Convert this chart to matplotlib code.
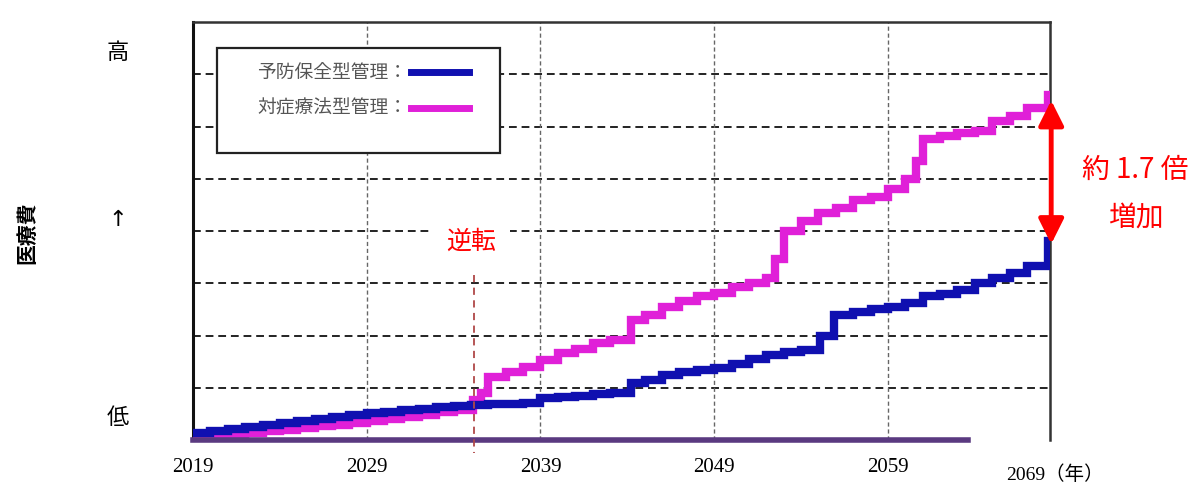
import matplotlib.pyplot as plt
from matplotlib.lines import Line2D
from matplotlib.patches import Rectangle

plt.rcParams['font.family'] = ['Noto Sans CJK JP', 'DejaVu Sans']

# cost path under preventive maintenance (step per year)
years_prev = [2019, 2020, 2021, 2022, 2023, 2024, 2025, 2026, 2027, 2028,
              2029, 2030, 2031, 2032, 2033, 2034, 2035, 2036, 2037, 2038,
              2039, 2040, 2041, 2042, 2043, 2044.2, 2045, 2046, 2047, 2048,
              2049, 2050, 2051, 2052, 2053, 2054, 2055.1, 2055.9, 2057, 2058,
              2059, 2060, 2061, 2062, 2063, 2064, 2065, 2066, 2067, 2068.2, 2068.35]
cost_prev = [0.13, 0.17, 0.21, 0.25, 0.29, 0.33, 0.37, 0.41, 0.45, 0.48,
             0.51, 0.54, 0.57, 0.60, 0.63, 0.65, 0.67, 0.68, 0.69, 0.70,
             0.80, 0.82, 0.85, 0.88, 0.90, 1.09, 1.15, 1.25, 1.30, 1.34,
             1.37, 1.45, 1.55, 1.62, 1.68, 1.72, 2.00, 2.40, 2.45, 2.50,
             2.55, 2.62, 2.75, 2.80, 2.88, 3.00, 3.10, 3.20, 3.34, 3.80, 3.80]

# cost path under reactive (corrective) maintenance
years_corr = [2019, 2020, 2021, 2022, 2023, 2024, 2025, 2026, 2027, 2028,
              2029, 2030, 2031, 2032, 2033, 2034, 2035.1, 2035.6, 2036, 2037,
              2038, 2039, 2040, 2041, 2042, 2043, 2044.2, 2045, 2046, 2047,
              2048, 2049, 2050, 2051, 2052, 2052.5, 2053, 2054, 2055, 2056,
              2057, 2058, 2059, 2060, 2060.6, 2061, 2062, 2063, 2064, 2065,
              2066, 2067, 2068.2, 2068.35]
cost_corr = [0.05, 0.08, 0.11, 0.14, 0.17, 0.20, 0.23, 0.26, 0.29, 0.32,
             0.36, 0.40, 0.44, 0.48, 0.53, 0.57, 0.76, 0.90, 1.20, 1.30,
             1.40, 1.53, 1.66, 1.75, 1.85, 1.92, 2.29, 2.40, 2.54, 2.67,
             2.75, 2.82, 2.92, 3.00, 3.10, 3.47, 4.00, 4.20, 4.35, 4.45,
             4.60, 4.65, 4.80, 5.00, 5.34, 5.76, 5.82, 5.88, 5.92, 6.10,
             6.20, 6.35, 6.60, 6.60]

tick_years = [2019, 2029, 2039, 2049, 2059]
legend_labels = ['予防保全型管理：', '対症療法型管理：']
reversal_year = 2035.2

blue = '#1010b0'
pink = '#e020d8'

fig = plt.figure(figsize=(11.99, 4.90), dpi=100)
ax = fig.add_axes([0.161, 0.102, 0.715, 0.853])
ax.set_xlim(2019, 2068.35)
ax.set_ylim(0, 8)

# grid
for y in range(1, 8):
    ax.axhline(y, color='#222222', lw=1.4, ls=(0, (4, 2.5)), zorder=1)
for x in tick_years[1:]:
    ax.axvline(x, color='#666666', lw=1.0, ls=(0, (3, 2)), zorder=1)

ax.step(years_prev, cost_prev, where='post', color=blue, lw=6, zorder=4,
        solid_joinstyle='miter')
ax.step(years_corr, cost_corr, where='post', color=pink, lw=6, zorder=3,
        solid_joinstyle='miter')

# frame
for side in ['top', 'right']:
    ax.spines[side].set_color('#333333')
    ax.spines[side].set_linewidth(1.8)
ax.spines['left'].set_color('#111111')
ax.spines['left'].set_linewidth(2.2)
ax.spines['bottom'].set_visible(False)
ax.plot([2019, 2063.6], [0, 0], color='#5a3a80', lw=4, clip_on=False, zorder=5)

ax.set_yticks([])
ax.set_xticks(tick_years)
ax.set_xticklabels([str(y) for y in tick_years], family='Liberation Serif',
                   fontsize=15)
ax.tick_params(axis='x', length=0, pad=13)
fig.text(0.880, 0.031, '2069（年）', ha='center', va='center', fontsize=14,
         family=['Liberation Serif', 'Noto Sans CJK JP'])

# y axis wording
fig.text(0.098, 0.893, '高', ha='center', va='center', fontsize=16)
fig.text(0.098, 0.551, '↑', ha='center', va='center', fontsize=16,
         family='DejaVu Sans')
fig.text(0.098, 0.147, '低', ha='center', va='center', fontsize=16)
fig.text(0.022, 0.525, '医療費', ha='center', va='center', fontsize=15,
         rotation=90, fontweight='bold')

# legend box
ax.add_patch(Rectangle((0.028, 0.687), 0.330, 0.251, transform=ax.transAxes,
                       facecolor='white', edgecolor='#222222', lw=1.6, zorder=6))
for i, (lab, col) in enumerate(zip(legend_labels, [blue, pink])):
    yy = 0.880 - i * 0.086
    ax.text(0.250, yy, lab, transform=ax.transAxes, ha='right', va='center',
            fontsize=13.5, color='#555555', zorder=7)
    ax.add_line(Line2D([0.254, 0.322], [yy, yy], transform=ax.transAxes,
                       color=col, lw=5, zorder=7))

# reversal marker
ax.plot([reversal_year, reversal_year], [3.15, -0.25], color='#b04848', lw=1.3,
        ls=(0, (4, 3)), clip_on=False, zorder=5)
ax.text(reversal_year - 0.2, 3.8, '逆転', ha='center', va='center',
        fontsize=18, color='red', zorder=6,
        bbox=dict(facecolor='white', edgecolor='none', pad=10))

# ratio arrow at the end
ax.annotate('', xy=(2068.4, cost_prev[-1] - 0.05), xytext=(2068.4, cost_corr[-1] - 0.1),
            arrowprops=dict(arrowstyle='<|-|>', color='red', lw=3.5,
                            mutation_scale=38, shrinkA=0, shrinkB=0),
            annotation_clip=False, zorder=8)
fig.text(0.947, 0.653, '約 1.7 倍', ha='center', va='center', fontsize=20,
         color='red')
fig.text(0.947, 0.553, '増加', ha='center', va='center', fontsize=20,
         color='red')

fig.savefig('out.png', dpi=100)
